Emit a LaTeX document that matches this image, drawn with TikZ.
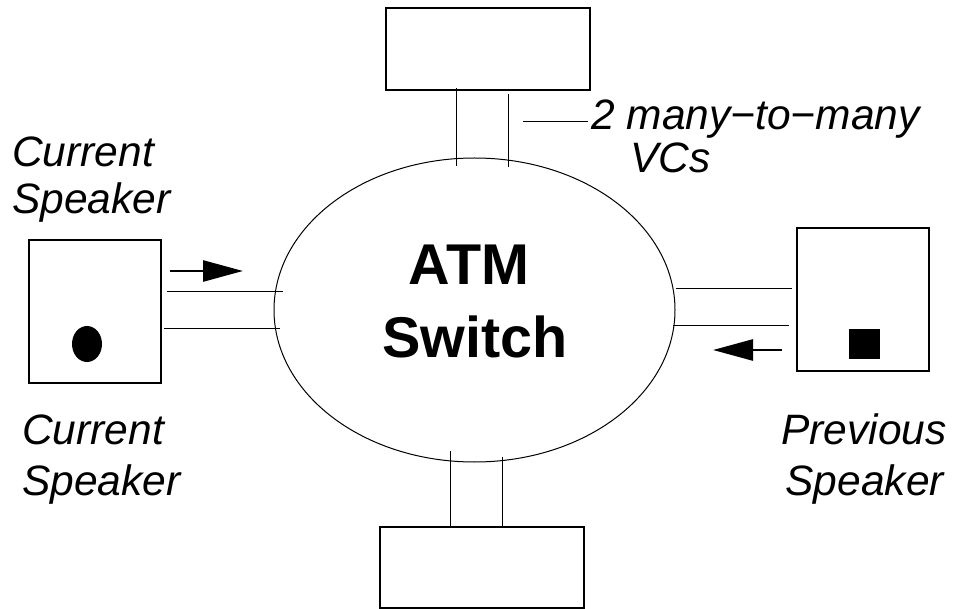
\documentclass[tikz,border=0pt]{standalone}
\usepackage{fontspec}
\setmainfont{Liberation Sans}
\usetikzlibrary{arrows.meta,shapes.geometric}
\begin{document}
\begin{tikzpicture}[x=1pt,y=-1pt,
  box/.style={draw,line width=1.2pt,inner sep=0pt},
  wire/.style={line width=1pt},
  flow/.style={line width=2.6pt,-{Triangle[length=40pt,width=21pt]}},
  lab/.style={inner sep=0pt,font=\fontsize{42.5}{50}\selectfont\itshape},
  big/.style={inner sep=0pt,font=\fontsize{57.5}{68}\selectfont\bfseries}]
\useasboundingbox (0,0) rectangle (956,609);
% switch
\node[ellipse,draw,line width=1pt,minimum width=401pt,minimum height=304pt,inner sep=0pt] (switch) at (474.5,310) {};
\node[big,anchor=base] (atm) at (469,285) {ATM};
\node[big,anchor=base] (sw) at (475,358) {Switch};
% boxes
\node[box,minimum width=204pt,minimum height=82pt] (topbox) at (488,49) {};
\node[box,minimum width=204pt,minimum height=81pt] (botbox) at (482,567.5) {};
\node[box,minimum width=132pt,minimum height=143pt] (leftbox) at (95,311.5) {};
\node[box,minimum width=132pt,minimum height=143pt] (rightbox) at (863,299.5) {};
% dot and square
\fill (87,344) ellipse [x radius=15pt,y radius=18pt];
\node[fill=black,minimum width=31pt,minimum height=30pt,inner sep=0pt] (sq) at (864.5,344) {};
% top wires
\coordinate (t1a) at (456,88); \coordinate (t1b) at (456,166);
\coordinate (t2a) at (508,94); \coordinate (t2b) at (508,167);
\draw[wire] (t1a) -- (t1b); \draw[wire] (t2a) -- (t2b);
% bottom wires
\coordinate (b1a) at (450,451); \coordinate (b1b) at (450,528);
\coordinate (b2a) at (502,457); \coordinate (b2b) at (502,528);
\draw[wire] (b1a) -- (b1b); \draw[wire] (b2a) -- (b2b);
% left wires
\coordinate (l1a) at (167,292); \coordinate (l1b) at (283,292);
\coordinate (l2a) at (164,329); \coordinate (l2b) at (280,329);
\draw[wire] (l1a) -- (l1b); \draw[wire] (l2a) -- (l2b);
% right wires
\coordinate (r1a) at (676,289); \coordinate (r1b) at (792,289);
\coordinate (r2a) at (673,326); \coordinate (r2b) at (789,326);
\draw[wire] (r1a) -- (r1b); \draw[wire] (r2a) -- (r2b);
% arrows
\coordinate (la) at (170,271); \coordinate (lb) at (243,271);
\draw[flow] (la) -- (lb);
\coordinate (ra) at (782,350); \coordinate (rb) at (713,350);
\draw[flow] (ra) -- (rb);
% label pointer
\coordinate (pa) at (523,122); \coordinate (pb) at (588,122);
\draw[wire] (pa) -- (pb);
% labels
\node[lab,anchor=base west] (vc1) at (591,130) {2 many−to−many};
\node[lab,anchor=base west] (vc2) at (630,173) {VCs};
\node[lab,anchor=base west] (cs1) at (12,167) {Current};
\node[lab,anchor=base west] (cs2) at (12,214) {Speaker};
\node[lab,anchor=base west] (cb1) at (22,445) {Current};
\node[lab,anchor=base west] (cb2) at (22,495) {Speaker};
\node[lab,anchor=base east] (ps1) at (947,445) {Previous};
\node[lab,anchor=base east] (ps2) at (944,495) {Speaker};
\end{tikzpicture}
\end{document}
